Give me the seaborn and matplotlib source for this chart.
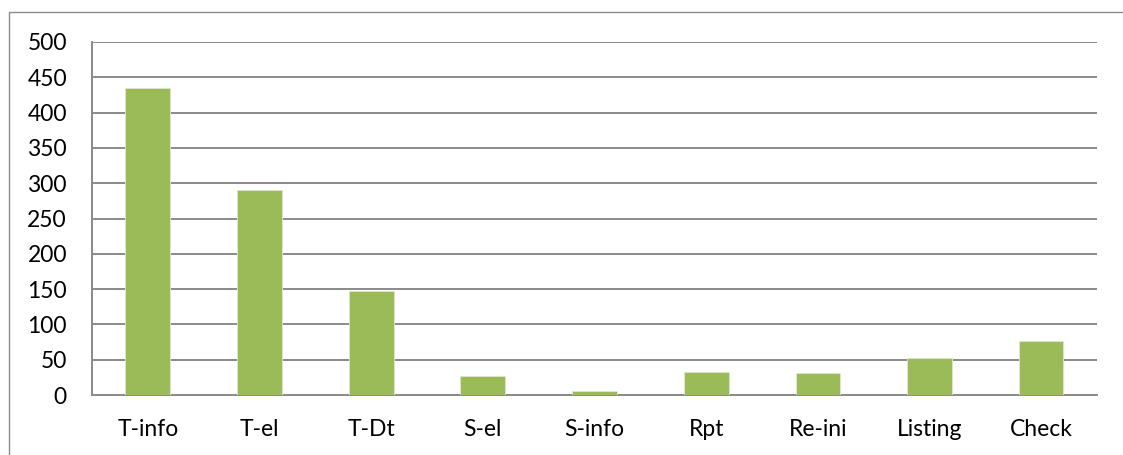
import matplotlib
matplotlib.use("Agg")
import matplotlib.pyplot as plt
from matplotlib.patches import Rectangle
import seaborn as sns
import pandas as pd

categories = ["T-info", "T-el", "T-Dt", "S-el", "S-info", "Rpt", "Re-ini", "Listing", "Check"]
counts = [435, 291, 148, 27, 5, 32, 31, 52, 76]
y_ticks = [0, 50, 100, 150, 200, 250, 300, 350, 400, 450, 500]

sns.set_theme(style="white")
plt.rcParams["font.family"] = ["Lato", "DejaVu Sans"]

W, H, DPI = 1123, 455, 100
fig = plt.figure(figsize=(W / DPI, H / DPI), dpi=DPI)
fig.patch.set_facecolor("white")

# outer chart frame (left and top edges visible)
fig.patches.append(Rectangle((9 / W, -0.1), 1.2, (H - 12) / H + 0.1,
                             transform=fig.transFigure, fill=False,
                             edgecolor="#8c8c8c", linewidth=1.0))

left, right, top, bottom = 92, 1097, 42, 395
ax = fig.add_axes([left / W, (H - bottom) / H, (right - left) / W, (bottom - top) / H])

df = pd.DataFrame({"category": categories, "count": counts})
sns.barplot(data=df, x="category", y="count", color="#9BBB59", width=0.4,
            saturation=1, ax=ax, zorder=3, edgecolor="#dfe9cc", linewidth=0.6)

ax.set_ylim(0, 500)
ax.set_xlim(-0.5, len(categories) - 0.5)
ax.set_yticks(y_ticks)
ax.set_yticklabels([str(v) for v in y_ticks])
ax.set_xlabel("")
ax.set_ylabel("")

ax.yaxis.grid(True, color="#8a8a8a", linewidth=1.4, zorder=0)
ax.set_axisbelow(True)
for side in ["top", "right"]:
    ax.spines[side].set_visible(False)
for side in ["left", "bottom"]:
    ax.spines[side].set_color("#8a8a8a")
    ax.spines[side].set_linewidth(1.4)

ax.tick_params(axis="y", length=0, pad=18, labelsize=16.5, labelcolor="black")
ax.tick_params(axis="x", length=0, pad=17, labelsize=16.5, labelcolor="black")

fig.savefig("out.png", dpi=DPI, facecolor="white")
